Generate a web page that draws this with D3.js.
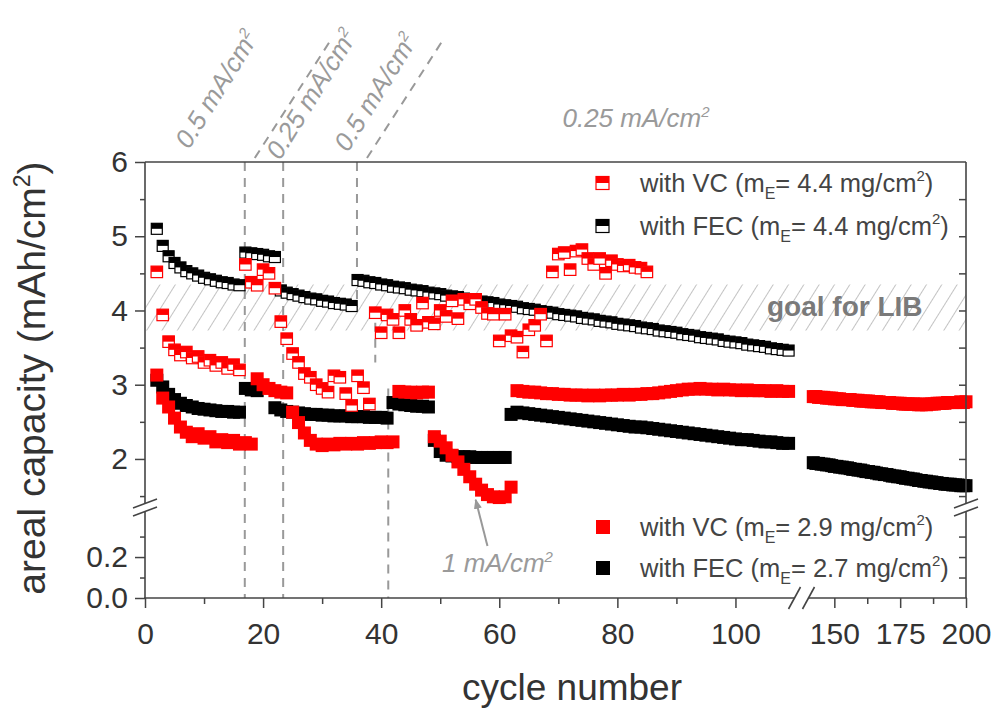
<!DOCTYPE html>
<html><head><meta charset="utf-8">
<script src="https://cdn.jsdelivr.net/npm/d3@7"></script>
<style>body{margin:0;background:#fff}svg{display:block}text{font-family:"Liberation Sans",Arial,sans-serif}</style>
</head><body><svg id="c" width="999" height="715"></svg>
<script>
// ---------- DATA ----------
// FEC, m_E = 4.4 mg/cm2 (half-filled black)
const fec44Start = [2, 17, 23, 36];
const fec44Values = [
  [5.10,4.87,4.73,4.64,4.58,4.53,4.50,4.47,4.44,4.42,4.40,4.38,4.37,4.35,4.34],
  [4.78,4.77,4.76,4.75,4.73,4.72],
  [4.27,4.24,4.22,4.20,4.18,4.16,4.15,4.13,4.12,4.10,4.09,4.08,4.06],
  [4.41,4.40,4.38,4.37,4.35,4.34,4.32,4.31,4.30,4.28,
   4.27,4.26,4.24,4.23,4.22,4.20,4.19,4.18,4.16,4.15,
   4.14,4.12,4.11,4.10,4.08,4.07,4.06,4.05,4.03,4.02,
   4.01,3.99,3.98,3.97,3.95,3.94,3.93,3.92,3.90,3.89,
   3.88,3.86,3.85,3.84,3.82,3.81,3.80,3.79,3.77,3.76,
   3.75,3.73,3.72,3.71,3.70,3.68,3.67,3.66,3.64,3.63,
   3.62,3.61,3.59,3.58,3.57,3.56,3.54,3.53,3.52,3.51,
   3.49,3.48,3.47,3.46]
];
// VC, m_E = 4.4 mg/cm2 (half-filled red)
const vc44Start = [2, 17, 23, 39];
const vc44Values = [
  [4.52,3.94,3.58,3.47,3.40,3.44,3.36,3.38,3.30,3.33,3.26,3.30,3.22,3.27,3.20],
  [4.62,4.38,4.34,4.55,4.50,4.30],
  [3.85,3.62,3.42,3.30,3.15,3.10,3.00,2.95,2.90,3.12,3.10,2.88,2.72,3.12,2.96,2.74],
  [3.97,3.70,3.94,3.88,3.70,4.00,3.88,3.80,4.10,3.84,3.82,4.00,3.92,4.13,3.89,4.15,
   4.09,4.15,4.04,3.96,3.95,3.59,3.95,3.66,3.64,3.44,3.74,3.80,3.95,3.59,4.52,4.76,
   4.78,4.55,4.80,4.82,4.70,4.62,4.70,4.50,4.67,4.62,4.60,4.61,4.58,4.57,4.52]
];
// VC, m_E = 2.9 mg/cm2 (filled red)
const vc29Start = [2, 19, 25, 43, 49, 63, 142];
const vc29Values = [
  [3.13,2.82,2.70,2.55,2.43,2.36,2.30,2.34,2.28,2.30,2.23,2.26,2.22,2.25,2.20,2.22,2.20],
  [3.08,3.00,2.95,2.92,2.90,2.89],
  [2.63,2.49,2.35,2.25,2.20,2.18,2.20,2.19,2.21,2.20,2.21,2.20,2.22,2.21,2.22,2.23,2.22,2.23],
  [2.91,2.90,2.90,2.89,2.90,2.90],
  [2.30,2.24,2.15,2.05,1.96,1.86,1.76,1.66,1.58,1.52,1.49,1.48,1.49,1.62],
  [2.92,2.91,2.90,2.90,2.89,2.88,2.88,2.87,2.87,2.86,
   2.86,2.86,2.85,2.86,2.85,2.86,2.86,2.86,2.87,2.86,
   2.87,2.87,2.88,2.88,2.89,2.90,2.91,2.92,2.93,2.94,
   2.94,2.95,2.94,2.94,2.93,2.94,2.93,2.93,2.92,2.93,
   2.92,2.92,2.92,2.91,2.92,2.91,2.91],
  [2.84,2.84,2.83,2.83,2.83,2.82,2.82,2.82,2.81,2.81,
   2.81,2.80,2.80,2.80,2.80,2.79,2.79,2.79,2.78,2.78,
   2.78,2.78,2.77,2.77,2.77,2.77,2.76,2.76,2.76,2.76,
   2.75,2.75,2.75,2.75,2.74,2.74,2.74,2.74,2.74,2.74,
   2.73,2.73,2.74,2.73,2.74,2.74,2.74,2.75,2.75,2.75,
   2.75,2.76,2.76,2.76,2.76,2.76,2.77,2.76,2.77]
];
// FEC, m_E = 2.7 mg/cm2 (filled black)
const fec27Start = [2, 17, 22, 42, 49, 62, 142];
const fec27Values = [
  [3.06,2.97,2.87,2.80,2.75,2.72,2.70,2.68,2.67,2.66,2.65,2.64,2.64,2.63,2.63],
  [2.95,2.93,2.92],
  [2.69,2.66,2.64,2.63,2.62,2.61,2.60,2.60,2.59,2.59,2.58,2.58,2.58,2.57,2.57,2.57,2.56,2.56,2.56,2.55],
  [2.76,2.74,2.73,2.72,2.71,2.71,2.70],
  [2.25,2.10,2.05,2.04,2.03,2.03,2.03,2.02,2.02,2.02,2.02,2.02,2.02],
  [2.60,2.63,2.62,2.61,2.60,2.59,2.58,2.57,2.56,2.55,
   2.54,2.53,2.52,2.51,2.50,2.49,2.48,2.47,2.46,2.45,
   2.44,2.43,2.43,2.42,2.41,2.40,2.39,2.38,2.37,2.36,
   2.35,2.34,2.33,2.32,2.31,2.30,2.29,2.28,2.27,2.26,
   2.26,2.25,2.24,2.23,2.23,2.22,2.21,2.21],
  [1.95,1.94,1.94,1.93,1.93,1.92,1.92,1.91,1.90,1.90,
   1.89,1.89,1.88,1.88,1.87,1.86,1.86,1.85,1.85,1.84,
   1.83,1.83,1.82,1.82,1.81,1.80,1.80,1.79,1.79,1.78,
   1.77,1.77,1.76,1.76,1.75,1.74,1.74,1.73,1.73,1.72,
   1.71,1.71,1.70,1.70,1.69,1.69,1.68,1.68,1.67,1.67,
   1.66,1.66,1.66,1.65,1.65,1.65,1.64,1.64,1.64]
];
const xTicksA = [0,20,40,60,80,100];
const xMinorA = [10,30,50,70,90];
const xTicksB = [150,175,200];
const xMinorB = [162.5,187.5];
const yTicksUpper = [2,3,4,5,6];
const yMinorUpper = [1.5,2.5,3.5,4.5,5.5];
const yTicksLower = [0,0.2];
const yMinorLower = [0.1,0.3];
const goalBand = [3.73, 4.35];
// rate-change dashed lines: cycle, from value, to value
const rateLines = [[16.9,6,0],[23.4,6,0],[35.9,6,4.05],[39.0,4.05,3.3],[41.2,2.95,0]];
const rateDiagonals = [16.9, 35.9];
const topLabels = [["0.5 mA/cm",189,150],["0.25 mA/cm",280,161],["0.5 mA/cm",348,153]];

// ---------- SCALES ----------
const L=145,R=966,T=162,B=598;
const xA = d3.scaleLinear().domain([0,110]).range([L,794.5]);
const xB = d3.scaleLinear().domain([140,200]).range([808,R]);
const X = c => c <= 120 ? xA(c) : xB(c);
const yA = d3.scaleLinear().domain([1.4,6]).range([503.5,T]);
const yB = d3.scaleLinear().domain([0,0.42]).range([B,512]);
const Y = v => v >= 1.0 ? yA(v) : yB(v);

function expand(starts, segs){
  const pts=[];
  segs.forEach((vals,i)=>vals.forEach((v,j)=>pts.push({c:starts[i]+j,v})));
  return pts;
}

const svg = d3.select('#c');
const defs = svg.append('defs');
const pat = defs.append('pattern').attr('id','hatch').attr('patternUnits','userSpaceOnUse')
  .attr('width',13).attr('height',13).attr('patternTransform','rotate(32)');
pat.append('line').attr('x1',0).attr('y1',0).attr('x2',0).attr('y2',13).attr('stroke','#a2a2a2').attr('stroke-width',1.3);
defs.append('marker').attr('id','arr').attr('viewBox','0 0 10 10').attr('refX',9).attr('refY',5)
  .attr('markerWidth',5).attr('markerHeight',5).attr('orient','auto')
  .append('path').attr('d','M0,1L10,5L0,9z').attr('fill','#999');

// hatch band
svg.append('rect').attr('x',L).attr('y',Y(goalBand[1])).attr('width',R-L)
  .attr('height',Y(goalBand[0])-Y(goalBand[1])).attr('fill','url(#hatch)');
svg.append('text').attr('x',767).attr('y',Y(3.93)).attr('fill','#7a7a7a')
  .style('font-size','28px').style('font-weight','bold').text('goal for LIB');

// dashed rate lines
const dash = '9,7';
rateLines.forEach(([c,v0,v1])=>{
  svg.append('line').attr('x1',X(c)).attr('x2',X(c)).attr('y1',Y(v0)).attr('y2',Y(v1))
    .attr('stroke','#999').attr('stroke-width',2).attr('stroke-dasharray',dash);
});
rateDiagonals.forEach(c=>{
  const x0=X(c)+10, y0=T-4;
  svg.append('line').attr('x1',x0).attr('y1',y0).attr('x2',x0+76).attr('y2',y0-118)
    .attr('stroke','#999').attr('stroke-width',2).attr('stroke-dasharray',dash);
});

// top labels
topLabels.forEach(([t,x,y])=>{
  const tx = svg.append('text').attr('transform',`translate(${x},${y}) rotate(-58)`)
    .attr('fill','#9a9a9a').style('font-size','26px').style('font-style','italic');
  tx.append('tspan').text(t);
  tx.append('tspan').attr('dy',-10).style('font-size','15px').text('2');
});
const t25 = svg.append('text').attr('x',636).attr('y',127).attr('text-anchor','middle')
  .attr('fill','#9a9a9a').style('font-size','26px').style('font-style','italic');
t25.append('tspan').text('0.25 mA/cm'); t25.append('tspan').attr('dy',-10).style('font-size','15px').text('2');
const t1 = svg.append('text').attr('x',442).attr('y',572)
  .attr('fill','#9a9a9a').style('font-size','26px').style('font-style','italic');
t1.append('tspan').text('1 mA/cm'); t1.append('tspan').attr('dy',-10).style('font-size','15px').text('2');
svg.append('line').attr('x1',X(58)).attr('y1',546).attr('x2',X(56)).attr('y2',Y(1.45))
  .attr('stroke','#999').attr('stroke-width',2).attr('marker-end','url(#arr)');

// ---------- MARKS ----------
function filled(pts,color,s){
  svg.append('g').selectAll('rect').data(pts).join('rect')
    .attr('x',d=>X(d.c)-s/2).attr('y',d=>Y(d.v)-s/2).attr('width',s).attr('height',s).attr('fill',color);
}
function half(pts,color,s){
  const g = svg.append('g').selectAll('g').data(pts).join('g')
    .attr('transform',d=>`translate(${X(d.c)},${Y(d.v)})`);
  g.append('rect').attr('x',-s/2).attr('y',-s/2).attr('width',s).attr('height',s)
    .attr('fill','#fff').attr('stroke',color).attr('stroke-width',1.2);
  g.append('rect').attr('x',-s/2).attr('y',-s/2).attr('width',s).attr('height',s*0.5).attr('fill',color);
}
filled(expand(fec27Start,fec27Values),'#000',13);
filled(expand(vc29Start,vc29Values),'#f00',13);
half(expand(fec44Start,fec44Values),'#000',11);
half(expand(vc44Start,vc44Values),'#f00',11.5);

// ---------- AXES ----------
function style(g){
  g.select('.domain').remove();
  g.selectAll('line').attr('stroke','#444').attr('stroke-width',1.5);
  g.selectAll('text').attr('fill','#333').style('font-size','30px')
   .style('font-family','"Liberation Sans",Arial,sans-serif');
}
svg.append('g').attr('transform',`translate(${L},0)`).call(d3.axisLeft(yA).tickValues(yTicksUpper).tickSize(10).tickPadding(7).tickFormat(d3.format('d'))).call(style);
svg.append('g').attr('transform',`translate(${L},0)`).call(d3.axisLeft(yA).tickValues(yMinorUpper).tickSize(5).tickFormat('')).call(style);
svg.append('g').attr('transform',`translate(${L},0)`).call(d3.axisLeft(yB).tickValues(yTicksLower).tickSize(10).tickPadding(7).tickFormat(d3.format('.1f'))).call(style);
svg.append('g').attr('transform',`translate(${L},0)`).call(d3.axisLeft(yB).tickValues(yMinorLower).tickSize(5).tickFormat('')).call(style);
svg.append('g').attr('transform',`translate(${R},0)`).call(d3.axisLeft(yA).tickValues(yMinorUpper.concat(yTicksUpper.slice(0,4))).tickSize(7).tickFormat('')).call(style);
svg.append('g').attr('transform',`translate(${R},0)`).call(d3.axisLeft(yB).tickValues([0.1,0.2,0.3]).tickSize(7).tickFormat('')).call(style);
[[xA,xTicksA],[xB,xTicksB]].forEach(([s,tv])=>{
  const g = svg.append('g').attr('transform',`translate(0,${B})`).call(d3.axisBottom(s).tickValues(tv).tickSize(10).tickFormat(d3.format('d'))).call(style);
  g.selectAll('text').attr('y',46).attr('dy',0);
});
[[xA,xMinorA],[xB,xMinorB]].forEach(([s,tv])=>{
  svg.append('g').attr('transform',`translate(0,${B})`).call(d3.axisBottom(s).tickValues(tv).tickSize(6).tickFormat('')).call(style);
});

// frame with breaks
const fr = svg.append('g').attr('stroke','#444').attr('stroke-width',1.6).attr('fill','none');
[[L,T,R,T],[L,T,L,503.5],[L,511.5,L,B],[R,T,R,503.5],[R,511.5,R,B],[L-1,B,794.5,B],[808.5,B,R+1,B]]
  .forEach(([a,b,c,d])=>fr.append('line').attr('x1',a).attr('y1',b).attr('x2',c).attr('y2',d));
[L,R].forEach(x=>{
  fr.append('line').attr('x1',x-12).attr('y1',508).attr('x2',x+12).attr('y2',499);
  fr.append('line').attr('x1',x-12).attr('y1',516).attr('x2',x+12).attr('y2',507);
});
fr.append('line').attr('x1',788.5).attr('y1',609).attr('x2',800.5).attr('y2',587);
fr.append('line').attr('x1',802.5).attr('y1',609).attr('x2',814.5).attr('y2',587);

// axis titles
const yt = svg.append('text').attr('transform','translate(45,378) rotate(-90)').attr('text-anchor','middle')
  .attr('fill','#333').style('font-size','39px');
yt.append('tspan').text('areal capacity (mAh/cm');
yt.append('tspan').attr('dy',-15).style('font-size','23px').text('2');
yt.append('tspan').attr('dy',15).text(')');
svg.append('text').attr('x',572).attr('y',700).attr('text-anchor','middle').attr('fill','#333')
  .style('font-size','37px').text('cycle number');

// ---------- LEGENDS ----------
const legend = [
  ['half','#f00','4.4',183,'VC'],['half','#000','4.4',226,'FEC'],
  ['fill','#f00','2.9',527,'VC'],['fill','#000','2.7',568,'FEC']
];
legend.forEach(([kind,color,m,y,name])=>{
  if(kind==='half'){
    svg.append('rect').attr('x',596).attr('y',y-6.5).attr('width',13).attr('height',13).attr('fill','#fff').attr('stroke',color).attr('stroke-width',1.2);
    svg.append('rect').attr('x',596).attr('y',y-6.5).attr('width',13).attr('height',6.5).attr('fill',color);
  } else {
    svg.append('rect').attr('x',596).attr('y',y-7).attr('width',14).attr('height',14).attr('fill',color);
  }
  const t = svg.append('text').attr('x',640).attr('y',y+9).attr('fill','#444').style('font-size','25.5px');
  t.append('tspan').text(`with ${name} (m`);
  t.append('tspan').attr('dy',7).style('font-size','16px').text('E');
  t.append('tspan').attr('dy',-7).text(`= ${m} mg/cm`);
  t.append('tspan').attr('dy',-11).style('font-size','15px').text('2');
  t.append('tspan').attr('dy',11).text(')');
});
</script></body></html>
